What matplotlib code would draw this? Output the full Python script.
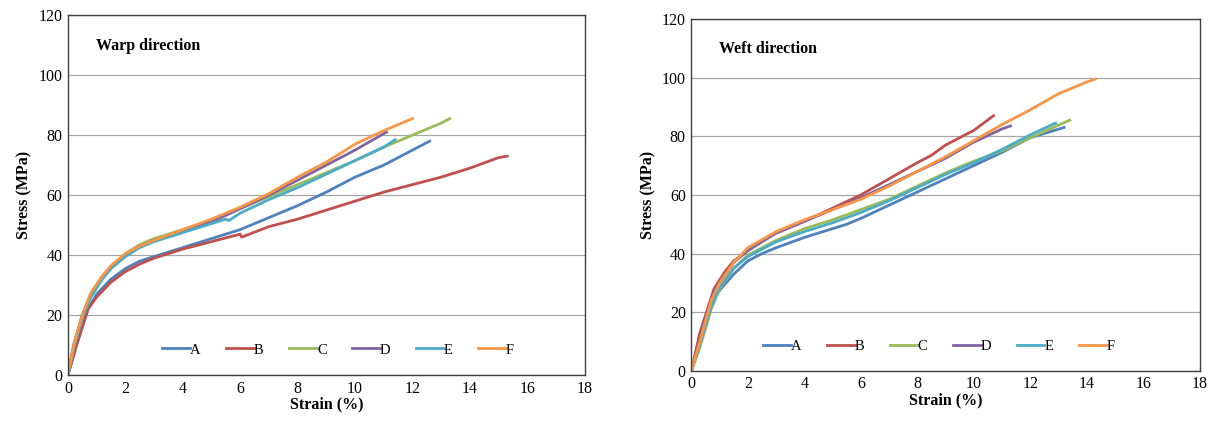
import numpy as np
import matplotlib
matplotlib.use('Agg')
import matplotlib.pyplot as plt
from matplotlib import rc

rc('font', family=['Liberation Serif', 'DejaVu Serif'])

labels = ['A', 'B', 'C', 'D', 'E', 'F']
colors = ['#4F81BD', '#C0504D', '#9BBB59', '#8064A2', '#4BACC6', '#F79646']

# Warp direction: strain (%), stress (MPa)
warp_A_x = [0, 0.3, 0.7, 1, 1.5, 2, 2.5, 3, 4, 5, 6, 7, 8, 9, 10, 11, 12, 12.6]
warp_A_y = [0, 10, 22, 27, 32, 35.5, 38, 39.5, 42.5, 45.5, 48.5, 52.5, 56.5, 61, 66, 70, 75, 78]
warp_B_x = [0, 0.3, 0.7, 1, 1.5, 2, 2.5, 3, 4, 5, 6, 6.05, 7, 8, 9, 10, 11, 12, 13, 14, 15, 15.3]
warp_B_y = [0, 10, 22, 26, 31, 34.5, 37, 39, 42, 44.5, 47, 46, 49.5, 52, 55, 58, 61, 63.5, 66, 69, 72.5, 73]
warp_C_x = [0, 0.2, 0.5, 0.8, 1.2, 1.5, 2, 2.5, 3, 4, 5, 6, 7, 8, 9, 10, 11, 12, 13, 13.3]
warp_C_y = [0, 10, 20, 27, 33, 36, 40.5, 43.5, 45.5, 48.5, 51.5, 55.5, 59.5, 63.5, 67.5, 71.5, 76, 80, 84, 85.5]
warp_D_x = [0, 0.2, 0.5, 0.8, 1.2, 1.5, 2, 2.5, 3, 4, 5, 6, 7, 8, 9, 10, 11, 11.1]
warp_D_y = [0, 10, 20, 27, 33, 36, 40, 43, 45, 48, 51, 55.5, 60, 65, 70, 75, 80.5, 81]
warp_E_x = [0, 0.2, 0.5, 0.8, 1.2, 1.5, 2, 2.5, 3, 4, 5, 5.5, 5.6, 6, 7, 8, 9, 10, 11, 11.4]
warp_E_y = [0, 9, 19, 26, 32, 35.5, 39.5, 42.5, 44.5, 47.5, 50.5, 52, 51.5, 54, 58.5, 62.5, 67, 71.5, 76, 78.5]
warp_F_x = [0, 0.2, 0.5, 0.8, 1.2, 1.5, 2, 2.5, 3, 4, 5, 6, 7, 8, 9, 10, 11, 12]
warp_F_y = [0, 10, 20, 27.5, 33, 36.5, 40.5, 43, 45, 48.5, 52, 56, 60.5, 66, 71, 77, 81.5, 85.5]

# Weft direction
weft_A_x = [0, 0.3, 0.7, 1, 1.5, 2, 2.5, 3, 4, 5, 5.5, 6, 7, 8, 9, 10, 11, 12, 13.2]
weft_A_y = [0, 12, 23, 27.5, 33, 37.5, 40, 42, 45.5, 48.5, 50, 52, 56.5, 61, 65.5, 70, 74.5, 79.5, 83]
weft_B_x = [0, 0.3, 0.8, 1.2, 1.5, 2, 2.5, 3, 4, 5, 6, 7, 8, 8.5, 9, 10, 10.7]
weft_B_y = [0, 13, 28, 34, 37.5, 41, 44.5, 47, 51, 55.5, 60, 65.5, 71, 73.5, 77, 82, 87]
weft_C_x = [0, 0.3, 0.7, 1, 1.5, 2, 3, 4, 5, 6, 7, 8, 9, 10, 11, 12, 13.4]
weft_C_y = [0, 8, 21, 28, 35, 39.5, 44.5, 48.5, 51.5, 55, 58.5, 63, 67.5, 71.5, 75, 79.5, 85.5]
weft_D_x = [0, 0.2, 0.5, 0.8, 1, 1.5, 2, 3, 4, 5, 6, 7, 8, 9, 10, 11, 11.3]
weft_D_y = [0, 7, 18, 27, 30, 37, 41, 47, 51, 55, 59, 63.5, 68, 72.5, 78, 82.5, 83.5]
weft_E_x = [0, 0.3, 0.7, 1, 1.5, 2, 3, 4, 5, 6, 7, 8, 9, 10, 11, 12, 12.9]
weft_E_y = [0, 9, 22, 28.5, 35, 39, 44, 47.5, 50.5, 54, 58, 62.5, 67, 71, 75.5, 80.5, 84.5]
weft_F_x = [0, 0.3, 0.7, 1, 1.5, 2, 3, 4, 5, 6, 7, 8, 9, 10, 11, 12, 13, 14, 14.3]
weft_F_y = [0, 10, 24, 30, 37, 42, 47.5, 51.5, 55, 58.5, 63, 68, 73, 78.5, 84, 89, 94.5, 98.5, 99.5]

warp = [(warp_A_x, warp_A_y), (warp_B_x, warp_B_y), (warp_C_x, warp_C_y),
        (warp_D_x, warp_D_y), (warp_E_x, warp_E_y), (warp_F_x, warp_F_y)]
weft = [(weft_A_x, weft_A_y), (weft_B_x, weft_B_y), (weft_C_x, weft_C_y),
        (weft_D_x, weft_D_y), (weft_E_x, weft_E_y), (weft_F_x, weft_F_y)]

fig = plt.figure(figsize=(12.13, 4.21), dpi=100)
ax1 = fig.add_axes([0.056, 0.109, 0.426, 0.855])
ax2 = fig.add_axes([0.570, 0.119, 0.419, 0.836])


def setup(ax, data, title, leg_x):
    for (x, y), lab, c in zip(data, labels, colors):
        ax.plot(x, y, color=c, lw=2, label=lab)
    ax.set_xlim(0, 18)
    ax.set_ylim(0, 120)
    ax.set_xticks(np.arange(0, 19, 2))
    ax.set_yticks(np.arange(0, 121, 20))
    ax.yaxis.grid(True, color='#a6a6a6', lw=0.9)
    ax.set_axisbelow(True)
    ax.tick_params(length=0, labelsize=11.5, pad=4)
    for s in ax.spines.values():
        s.set_color('#404040')
        s.set_linewidth(1.0)
    ax.set_xlabel('Strain (%)', fontsize=11.5, fontweight='bold', labelpad=0)
    ax.set_ylabel('Stress (MPa)', fontsize=11.5, fontweight='bold', labelpad=4)
    ax.text(0.055, 0.915, title, transform=ax.transAxes, fontsize=11.5,
            fontweight='bold', va='center')
    ax.legend(loc='center', bbox_to_anchor=(leg_x, 0.07), ncol=6, frameon=False,
              fontsize=10.5, handlelength=1.9, handletextpad=0.0,
              columnspacing=1.75)


setup(ax1, warp, 'Warp direction', 0.523)
setup(ax2, weft, 'Weft direction', 0.487)

fig.savefig('out.png', dpi=100)
